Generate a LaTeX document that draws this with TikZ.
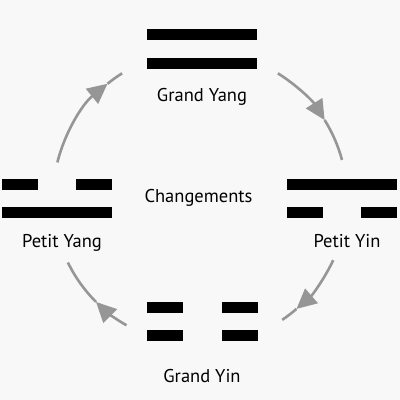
\documentclass[tikz,border=0pt]{standalone}
\usepackage{fontspec}
\setmainfont{PT Sans}
\usetikzlibrary{arrows.meta,positioning}
\definecolor{cyclegray}{RGB}{150,150,150}
\definecolor{paper}{RGB}{248,248,248}
\tikzset{
  solidbar/.style={fill=black, inner sep=0pt, minimum width=110pt, minimum height=11pt},
  halfbar/.style={fill=black, inner sep=0pt, minimum width=36pt, minimum height=11pt},
  trigname/.style={anchor=base, inner sep=0pt, text=black, font=\fontsize{18.5}{22}\selectfont},
  cyclearrow/.style={line width=2.6pt, cyclegray, -{Triangle[length=20pt,width=19pt]}},
  cycleline/.style={line width=2.6pt, cyclegray}
}
\begin{document}
\begin{tikzpicture}[x=1pt, y=1pt]
\fill[paper] (0,0) rectangle (400,400);
\useasboundingbox (0,0) rectangle (400,400);

% Grand Yang
\node[solidbar] (gyang-top) at (202,365) {};
\node[solidbar, below=17pt of gyang-top] (gyang-bot) {};
\node[trigname] (gyang-name) at (202,298) {Grand Yang};

% Petit Yin
\node[solidbar] (pyin-top) at (341.5,215.5) {};
\node[halfbar, anchor=north west] (pyin-bl) at ([yshift=-17pt]pyin-top.south west) {};
\node[halfbar, anchor=north east] (pyin-br) at ([yshift=-17pt]pyin-top.south east) {};
\node[trigname] (pyin-name) at (347,153) {Petit Yin};

% Grand Yin
\node[halfbar, anchor=west] (gyin-tl) at (147,92.5) {};
\node[halfbar, anchor=east] (gyin-tr) at (258,92.5) {};
\node[halfbar, below=17pt of gyin-tl] (gyin-bl) {};
\node[halfbar, below=17pt of gyin-tr] (gyin-br) {};
\node[trigname] (gyin-name) at (202,17) {Grand Yin};

% Petit Yang
\node[solidbar] (pyang-bot) at (56.5,187.5) {};
\node[halfbar, anchor=south west] (pyang-tl) at ([yshift=17pt]pyang-bot.north west) {};
\node[halfbar, anchor=south east] (pyang-tr) at ([yshift=17pt]pyang-bot.north east) {};
\node[trigname] (pyang-name) at (62,153) {Petit Yang};

% Center
\node[trigname] (change) at (198.5,197) {Changements};

% Cycle
\coordinate (c) at (200,202);
\draw[cyclearrow] (c) ++(166:147) arc[start angle=166, end angle=129, radius=147];
\draw[cycleline] (c) ++(129:147) arc[start angle=129, end angle=122, radius=147];
\draw[cyclearrow] (c) ++(58:147) arc[start angle=58, end angle=32, radius=147];
\draw[cycleline] (c) ++(32:147) arc[start angle=32, end angle=15, radius=147];
\draw[cyclearrow] (c) ++(-25:147) arc[start angle=-25, end angle=-49, radius=147];
\draw[cycleline] (c) ++(-49:147) arc[start angle=-49, end angle=-56, radius=147];
\draw[cyclearrow] (c) ++(-120:147) arc[start angle=-120, end angle=-135, radius=147];
\draw[cycleline] (c) ++(-135:147) arc[start angle=-135, end angle=-154, radius=147];
\end{tikzpicture}
\end{document}
